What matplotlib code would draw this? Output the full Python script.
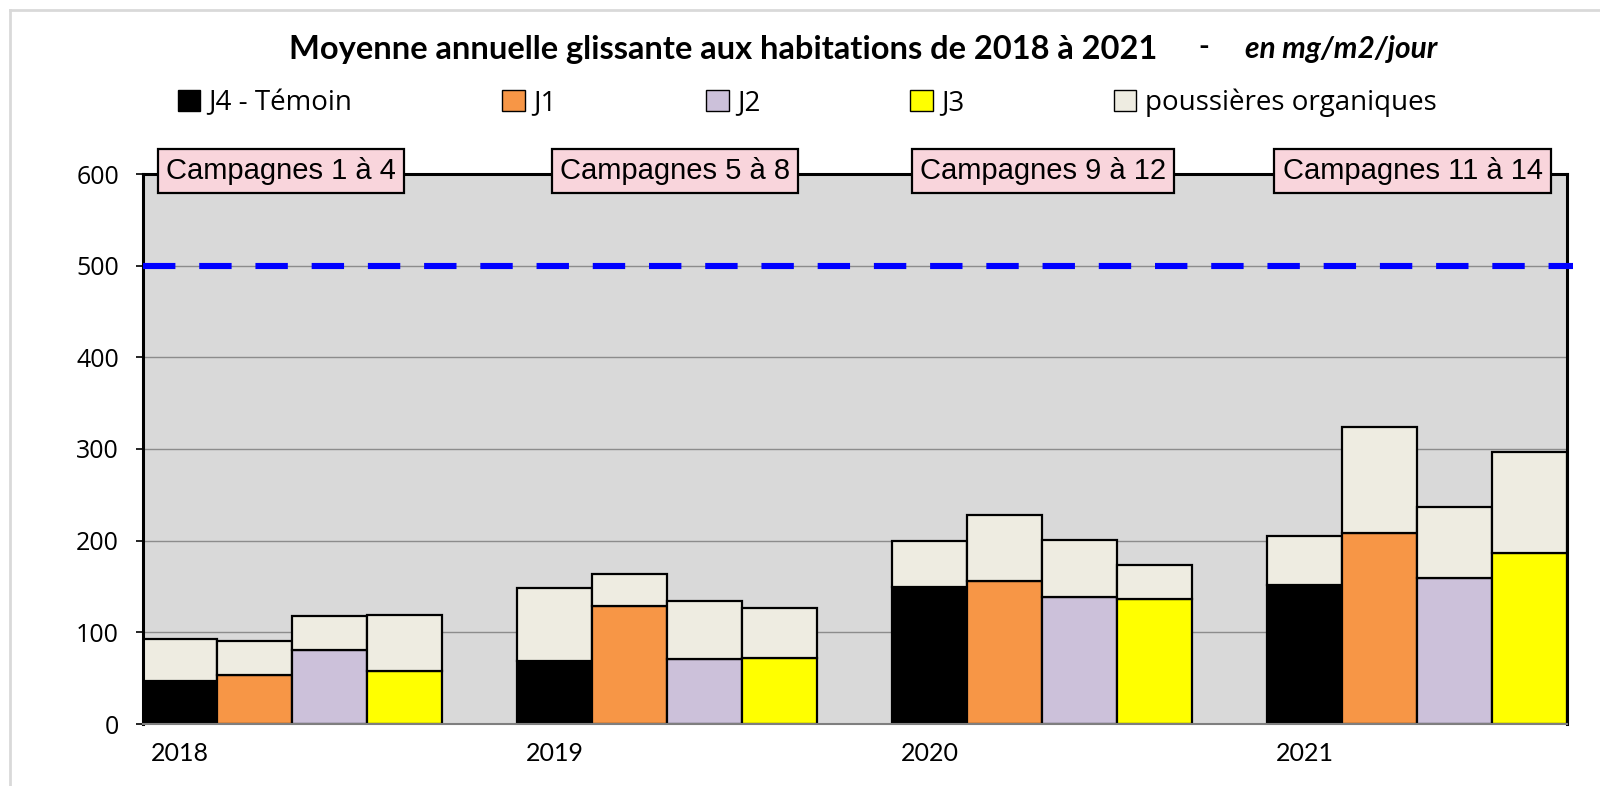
import matplotlib
matplotlib.use("Agg")
import matplotlib.pyplot as plt
from matplotlib.patches import Patch
from matplotlib.lines import Line2D
import numpy as np

# ---------------- data ----------------
years = ["2018", "2019", "2020", "2021"]
series = ["J4 - Témoin", "J1", "J2", "J3"]
# base (mineral) part for each series per year
base_j4 = [47, 69, 149, 152]
base_j1 = [53, 129, 156, 208]
base_j2 = [81, 71, 139, 159]
base_j3 = [58, 72, 136, 187]
# total height (base + organic dust)
total_j4 = [93, 148, 200, 205]
total_j1 = [91, 164, 228, 324]
total_j2 = [118, 134, 201, 237]
total_j3 = [119, 127, 174, 297]
threshold = 500
campaigns = ["Campagnes 1 à 4", "Campagnes 5 à 8", "Campagnes 9 à 12", "Campagnes 11 à 14"]
organic_label = "poussières organiques"
yticks = [0, 100, 200, 300, 400, 500, 600]

colors = ["#000000", "#F79646", "#CCC1DA", "#FFFF00"]
organic_color = "#EEECE1"

# ---------------- figure ----------------
W, H = 1600, 786
fig = plt.figure(figsize=(W / 100, H / 100), dpi=100)
ax_left, ax_right, ax_top, ax_bot = 142.5, 1567, 174, 724
ax = fig.add_axes([ax_left / W, 1 - ax_bot / H, (ax_right - ax_left) / W, (ax_bot - ax_top) / H])
ax.set_facecolor("#D9D9D9")

bases = [base_j4, base_j1, base_j2, base_j3]
totals = [total_j4, total_j1, total_j2, total_j3]
slots_per_year = len(series) + 1
n_slots = len(years) * slots_per_year - 1

ax.set_ylim(0, 600)
ax.set_xlim(-0.5, n_slots - 0.5)
ax.set_yticks(yticks)
ax.set_yticklabels([str(v) for v in yticks], fontsize=18, fontfamily="Open Sans")
ax.grid(axis="y", color="#8C8C8C", linewidth=1.0, zorder=0)
ax.set_axisbelow(True)

for yi, yr in enumerate(years):
    for si in range(len(series)):
        x = yi * slots_per_year + si
        b = bases[si][yi]
        t = totals[si][yi]
        ax.bar(x, b, width=1.0, color=colors[si], edgecolor="black", linewidth=1.6, zorder=2)
        ax.bar(x, t - b, bottom=b, width=1.0, color=organic_color, edgecolor="black",
               linewidth=1.6, zorder=2)
    if yi < len(years) - 1:
        gx = yi * slots_per_year + len(series)
        ax.bar(gx, 0, width=1.0, color="none", edgecolor="#222222", linewidth=1.4, zorder=2)

# threshold line
ax.plot([-0.5, n_slots - 0.42], [threshold, threshold], color="#0000FF", linewidth=4.4,
        linestyle=(0, (5.3, 3.9)), dash_capstyle="butt", clip_on=False, zorder=3)

# spines
for s in ["left", "top", "right"]:
    ax.spines[s].set_color("black")
    ax.spines[s].set_linewidth(2.2)
ax.spines["bottom"].set_color("#7F7F7F")
ax.spines["bottom"].set_linewidth(1.5)

ax.tick_params(axis="y", direction="out", length=5, width=1.2, pad=12, colors="black")
ax.set_xticks([yi * slots_per_year for yi in range(len(years))])
ax.set_xticklabels(years, fontsize=18, fontfamily="Lato")
ax.tick_params(axis="x", length=0, pad=13)

# campaign boxes
camp_x = [1.35, 6.60, 11.51, 16.44]
for cx, txt in zip(camp_x, campaigns):
    ax.text(cx, 603, txt, ha="center", va="center", fontsize=21, family="Liberation Sans",
            zorder=5, clip_on=False,
            bbox=dict(boxstyle="square,pad=0.28", facecolor="#F9D5DC", edgecolor="black",
                      linewidth=1.6))

# title
fig.text(723.5 / W, 1 - 49 / H, "Moyenne annuelle glissante aux habitations de 2018 à 2021",
         ha="center", va="center", fontsize=23.5, fontweight="bold", family="Lato")
fig.text(1204 / W, 1 - 47 / H, "-", ha="center", va="center", fontsize=21,
         fontweight="bold", family="Lato")
fig.text(1245 / W, 1 - 49 / H, "en mg/m2/jour", ha="left", va="center", fontsize=21.5,
         fontstyle="italic", fontweight="bold", family="Lato")

# legend
handles = [Patch(facecolor=c, edgecolor="black", linewidth=1.0) for c in colors]
handles.append(Patch(facecolor=organic_color, edgecolor="black", linewidth=1.0))
labels = series + [organic_label]
fig.legend(handles, labels, loc="center left", bbox_to_anchor=(178 / W, 1 - 103 / H),
           ncol=5, frameon=False, prop={"family": "Open Sans", "size": 20},
           handlelength=0.8, handleheight=0.8, handletextpad=0.3, columnspacing=5.4,
           borderpad=0, borderaxespad=0)

# outer chart border
fig.add_artist(Line2D([10 / W, 1.0], [1 - 10 / H, 1 - 10 / H], color="#D9D9D9", linewidth=2,
                      transform=fig.transFigure))
fig.add_artist(Line2D([10 / W, 10 / W], [0, 1 - 10 / H], color="#D9D9D9", linewidth=2,
                      transform=fig.transFigure))

fig.savefig("out.png", dpi=100)
